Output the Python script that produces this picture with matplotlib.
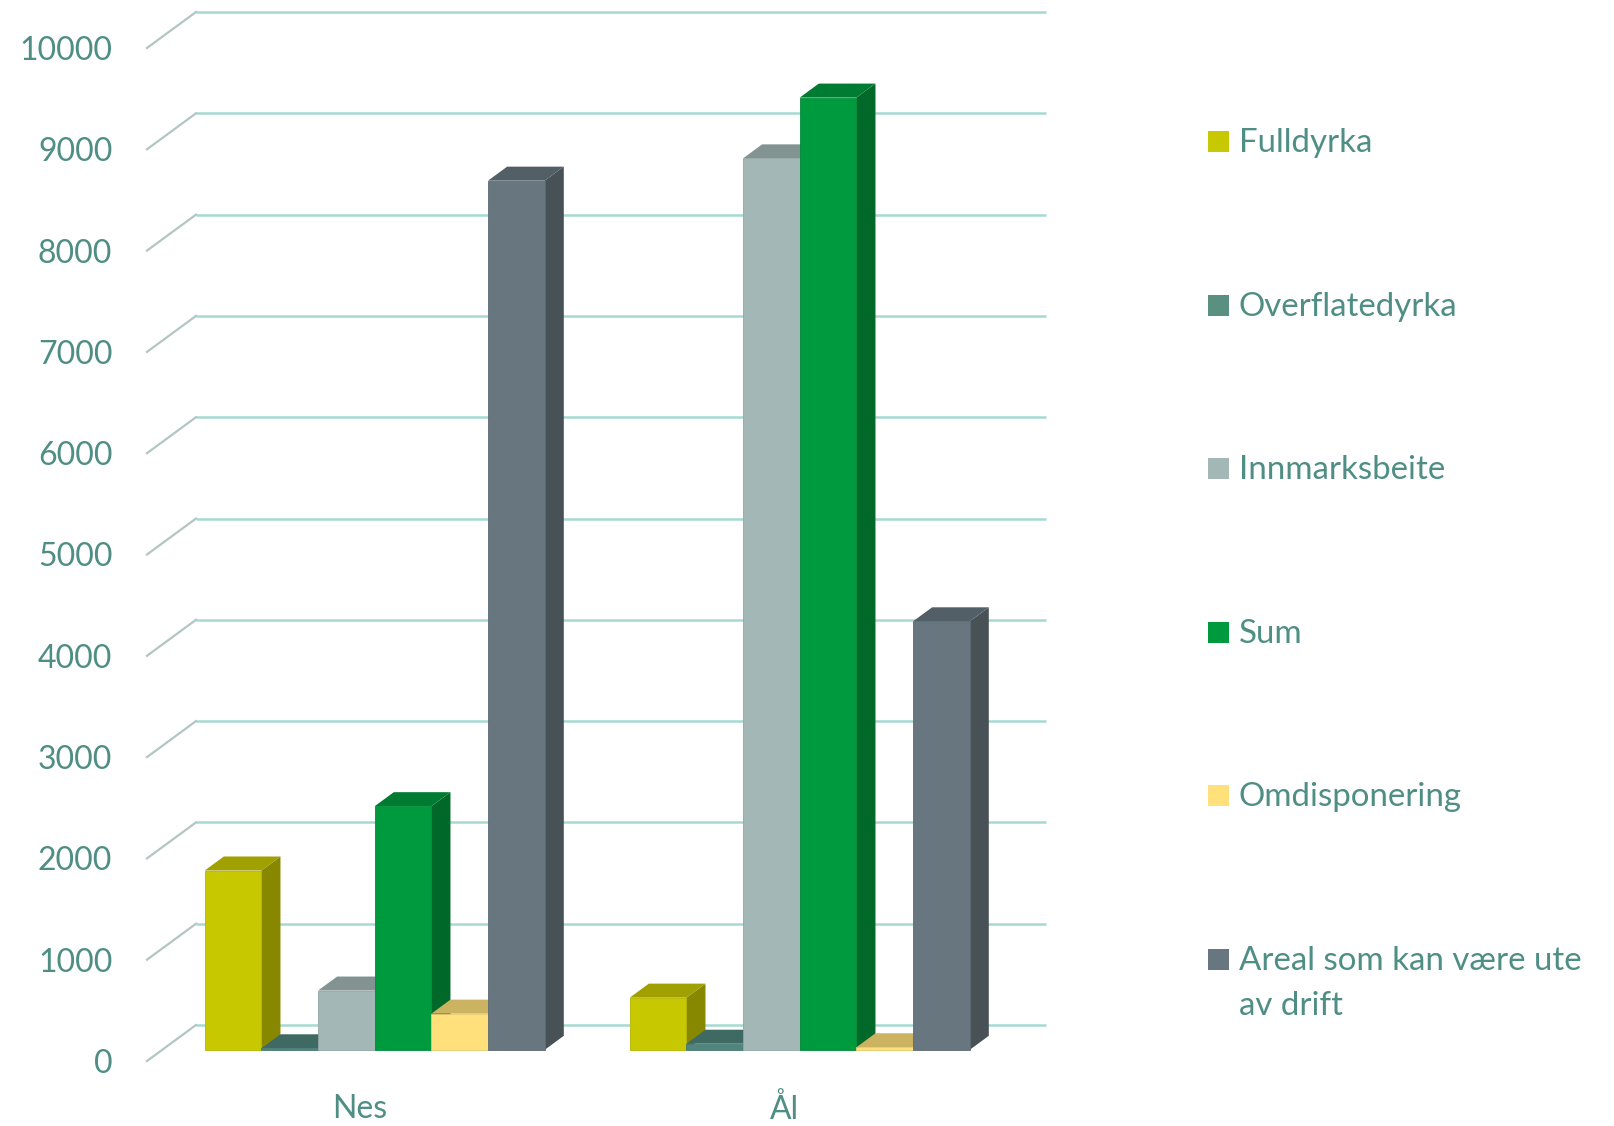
import matplotlib
matplotlib.use('Agg')
import matplotlib.pyplot as plt
from matplotlib.patches import Polygon, Rectangle
from matplotlib.colors import to_rgb

# data
categories = ['Nes', 'Ål']
series = ['Fulldyrka', 'Overflatedyrka', 'Innmarksbeite', 'Sum', 'Omdisponering',
          'Areal som kan være ute\nav drift']
fulldyrka = [1770, 515]
overflatedyrka = [15, 60]
innmarksbeite = [585, 8800]
sum_areal = [2405, 9400]
omdisponering = [357, 25]
ute_av_drift = [8580, 4230]
yticks = list(range(0, 10001, 1000))

values = [fulldyrka, overflatedyrka, innmarksbeite, sum_areal, omdisponering, ute_av_drift]
colors = ['#c8c800', '#4f857c', '#a3b8b6', '#009a3e', '#ffe07a', '#68777f']
legend_colors = ['#c8c800', '#5a9080', '#a3b8b6', '#009a3e', '#ffe07a', '#68777f']
txt_color = '#4f8e84'

plt.rcParams['font.family'] = ['Lato', 'DejaVu Sans']

W, H = 1614, 1126
fig = plt.figure(figsize=(W / 100, H / 100), dpi=100)
fig.patch.set_facecolor('white')

# front plane of the 3d box (pixels)
left, right, top, bottom = 147, 997, 48, 1061
ax = fig.add_axes([left / W, 1 - bottom / H, (right - left) / W, (bottom - top) / H])
ax.set_xlim(-0.5, 1.5)
ax.set_ylim(0, 10000)
for s in ax.spines.values():
    s.set_visible(False)

# depth of the box in pixels -> data units
depth_px = (49, 36)
dx = depth_px[0] / (right - left) * 2.0
dy = depth_px[1] / (bottom - top) * 10000

# back wall gridlines + diagonals on the side
for v in yticks:
    ax.plot([-0.5 + dx, 1.5 + dx], [v + dy, v + dy], color='#a6d9d1', lw=1.8,
            clip_on=False, zorder=1, solid_capstyle='butt')
    ax.plot([-0.5, -0.5 + dx], [v, v + dy], color='#b2c6c3', lw=1.6,
            clip_on=False, zorder=1)


def shade(c, f):
    r, g, b = to_rgb(c)
    return (r * f, g * f, b * f)


# bars, drawn left to right so the right ones cover the side faces
n = len(series)
group = 0.8
w = group / n
d0, d1 = 0.31, 0.70
for j, cat in enumerate(categories):
    for i in range(n):
        h = values[i][j]
        x0 = j - group / 2 + i * w
        xa, ya = x0 + d0 * dx, d0 * dy
        xb, yb = x0 + d1 * dx, d1 * dy
        front = [(xa, ya), (xa + w, ya), (xa + w, ya + h), (xa, ya + h)]
        topf = [(xa, ya + h), (xa + w, ya + h), (xb + w, yb + h), (xb, yb + h)]
        side = [(xa + w, ya), (xb + w, yb), (xb + w, yb + h), (xa + w, ya + h)]
        c = colors[i]
        ax.add_patch(Polygon(side, closed=True, fc=shade(c, 0.68), ec='none',
                             clip_on=False, zorder=3))
        ax.add_patch(Polygon(topf, closed=True, fc=shade(c, 0.8), ec='none',
                             clip_on=False, zorder=3))
        ax.add_patch(Polygon(front, closed=True, fc=c, ec=shade(c, 0.9), lw=0.6,
                             clip_on=False, zorder=3))

ax.set_yticks(yticks)
ax.set_yticklabels([str(t) for t in yticks])
ax.set_xticks(range(len(categories)))
ax.set_xticklabels(categories)
ax.tick_params(axis='y', length=0, pad=25, labelsize=23, labelcolor=txt_color)
ax.tick_params(axis='x', length=0, pad=24, labelsize=23, labelcolor=txt_color)

# legend on the right
leg_x, sq = 1208, 21
base0, step, line_gap = 152, 163.6, 45
for i, name in enumerate(series):
    base = base0 + i * step
    fig.patches.append(Rectangle((leg_x / W, 1 - base / H), sq / W, sq / H,
                                 transform=fig.transFigure, fc=legend_colors[i], ec='none'))
    for k, line in enumerate(name.split('\n')):
        fig.text((leg_x + 31) / W, 1 - (base + k * line_gap) / H, line, fontsize=23.8,
                 color=txt_color, va='baseline', ha='left')

fig.savefig('out.png', dpi=100, facecolor='white')
